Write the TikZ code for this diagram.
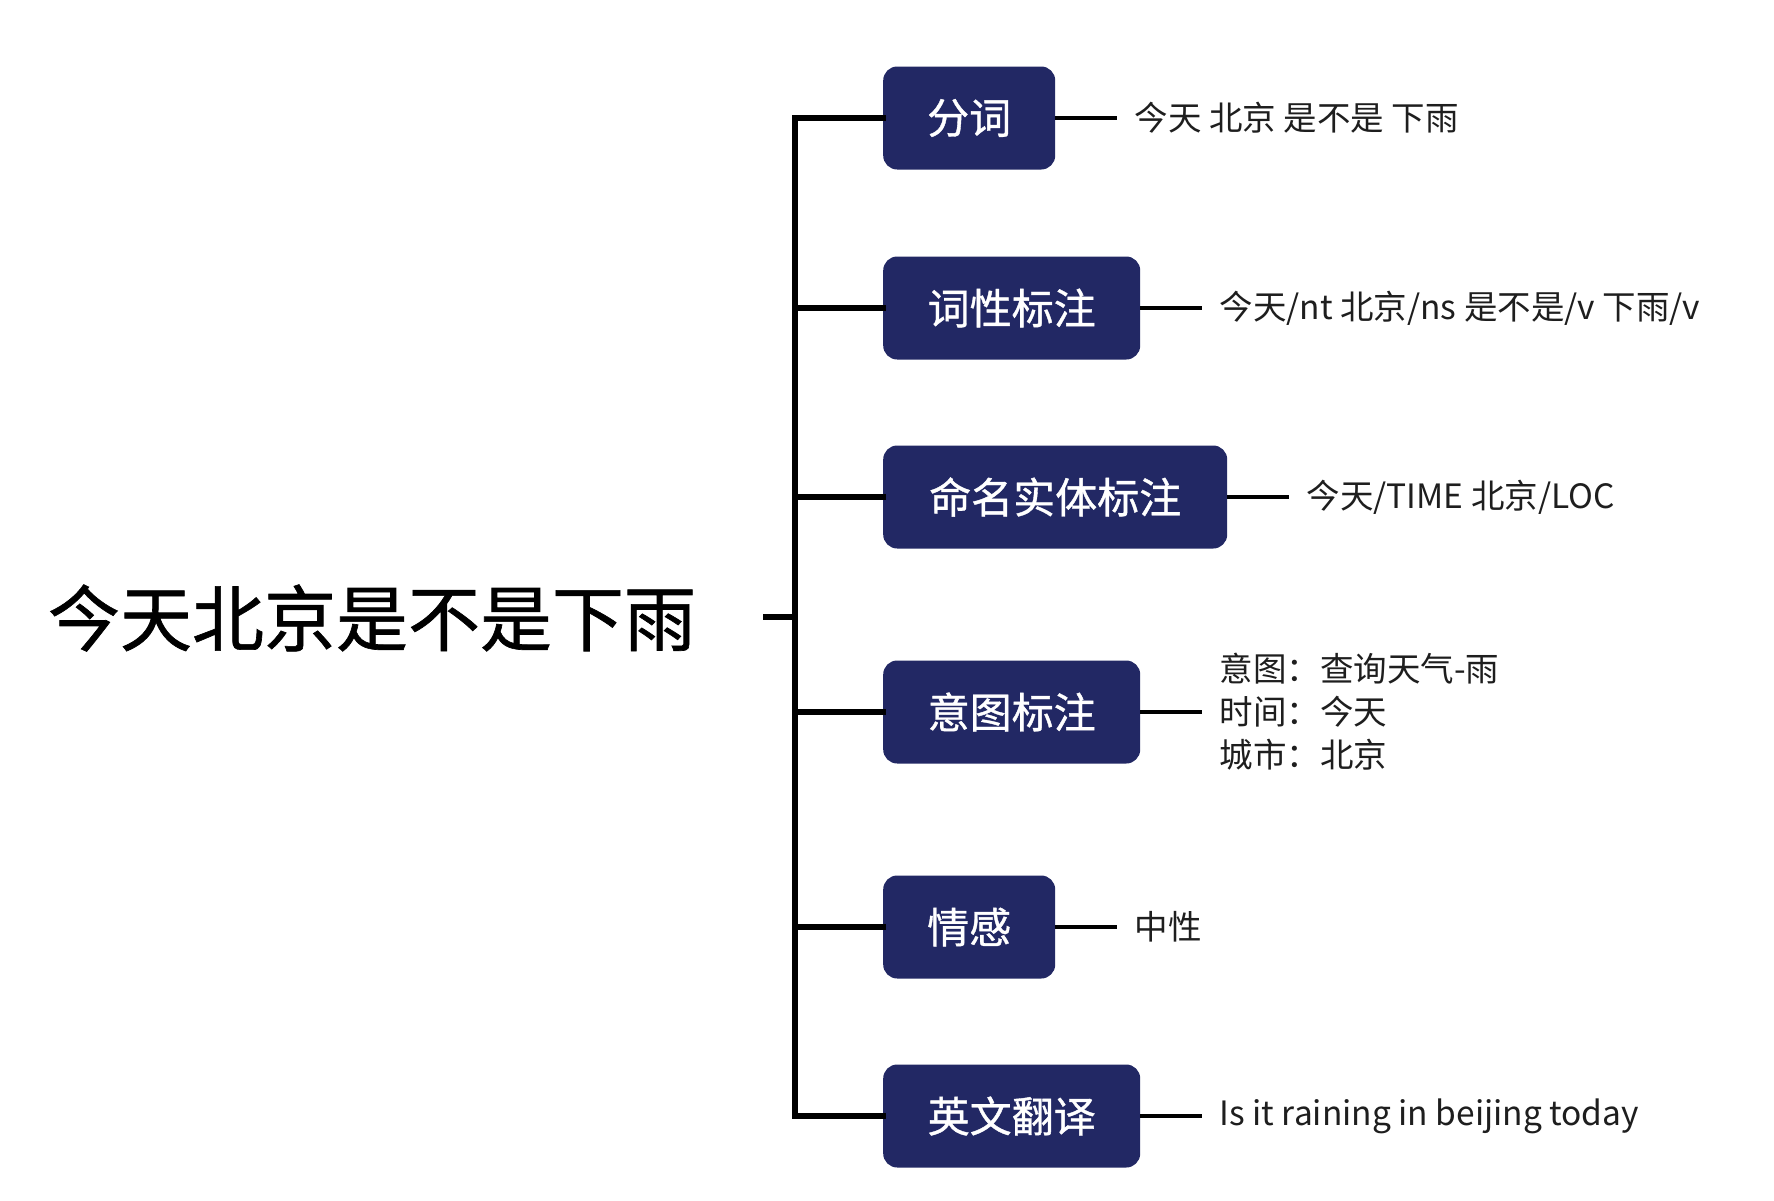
\documentclass[tikz,border=0pt]{standalone}
\usepackage{fontspec}
\setmainfont{Noto Sans CJK SC}
\newfontfamily\cjk{Noto Sans CJK SC}
\newfontfamily\cjkm[FakeBold=0.9]{Noto Sans CJK SC}
\definecolor{navy}{RGB}{34,40,100}
\definecolor{ink}{RGB}{30,30,30}
\tikzset{
  box/.style={draw=none, fill=navy, rounded corners=14pt, minimum height=103pt,
    text=white, font=\cjkm\fontsize{42}{48}\selectfont, inner xsep=0pt, anchor=west},
  leaftext/.style={anchor=west, inner xsep=17pt, inner ysep=0pt, text=ink,
    font=\cjk\fontsize{33.5}{43}\selectfont, align=left},
  trunk/.style={line width=5.5pt, line join=miter, line cap=rect},
  leaf/.style={line width=3.5pt},
}
\begin{document}
\begin{tikzpicture}[x=1pt,y=-1pt]
\useasboundingbox (0,0) rectangle (1774,1200);
\fill[white] (0,0) rectangle (1774,1200);

\node[font=\cjkm\fontsize{72}{80}\selectfont, inner sep=0pt] (title) at (372,618) {今天北京是不是下雨};

\coordinate (vx) at (795,0);
\coordinate (stub) at (763,617);
\coordinate (hub) at (795,617);

\node[box, minimum width=172pt] (b1) at (883,118) {分词};
\node[box, minimum width=257pt] (b2) at (883,308) {词性标注};
\node[box, minimum width=344pt] (b3) at (883,497) {命名实体标注};
\node[box, minimum width=257pt] (b4) at (883,712) {意图标注};
\node[box, minimum width=172pt] (b5) at (883,927) {情感};
\node[box, minimum width=257pt] (b6) at (883,1116) {英文翻译};

\draw[trunk] (b1.west) -- (b1.west -| vx) -- (b6.west -| vx) -- (b6.west);
\draw[trunk] (b2.west) -- (b2.west -| vx);
\draw[trunk] (b3.west) -- (b3.west -| vx);
\draw[trunk] (b4.west) -- (b4.west -| vx);
\draw[trunk] (b5.west) -- (b5.west -| vx);
\draw[trunk, line cap=butt] (stub) -- (hub);

\node[leaftext] (t1) at ([xshift=62pt]b1.east) {今天 北京 是不是 下雨};
\node[leaftext] (t2) at ([xshift=62pt]b2.east) {今天/nt 北京/ns 是不是/v 下雨/v};
\node[leaftext] (t3) at ([xshift=62pt]b3.east) {今天/TIME 北京/LOC};
\node[leaftext] (t4) at ([xshift=62pt]b4.east) {意图：查询天气-雨\\时间：今天\\城市：北京};
\node[leaftext] (t5) at ([xshift=62pt]b5.east) {中性};
\node[leaftext] (t6) at ([xshift=62pt]b6.east) {Is it raining in beijing today};

\foreach \i in {1,...,6} { \draw[leaf] (b\i.east) -- (t\i.west); }
\end{tikzpicture}
\end{document}
